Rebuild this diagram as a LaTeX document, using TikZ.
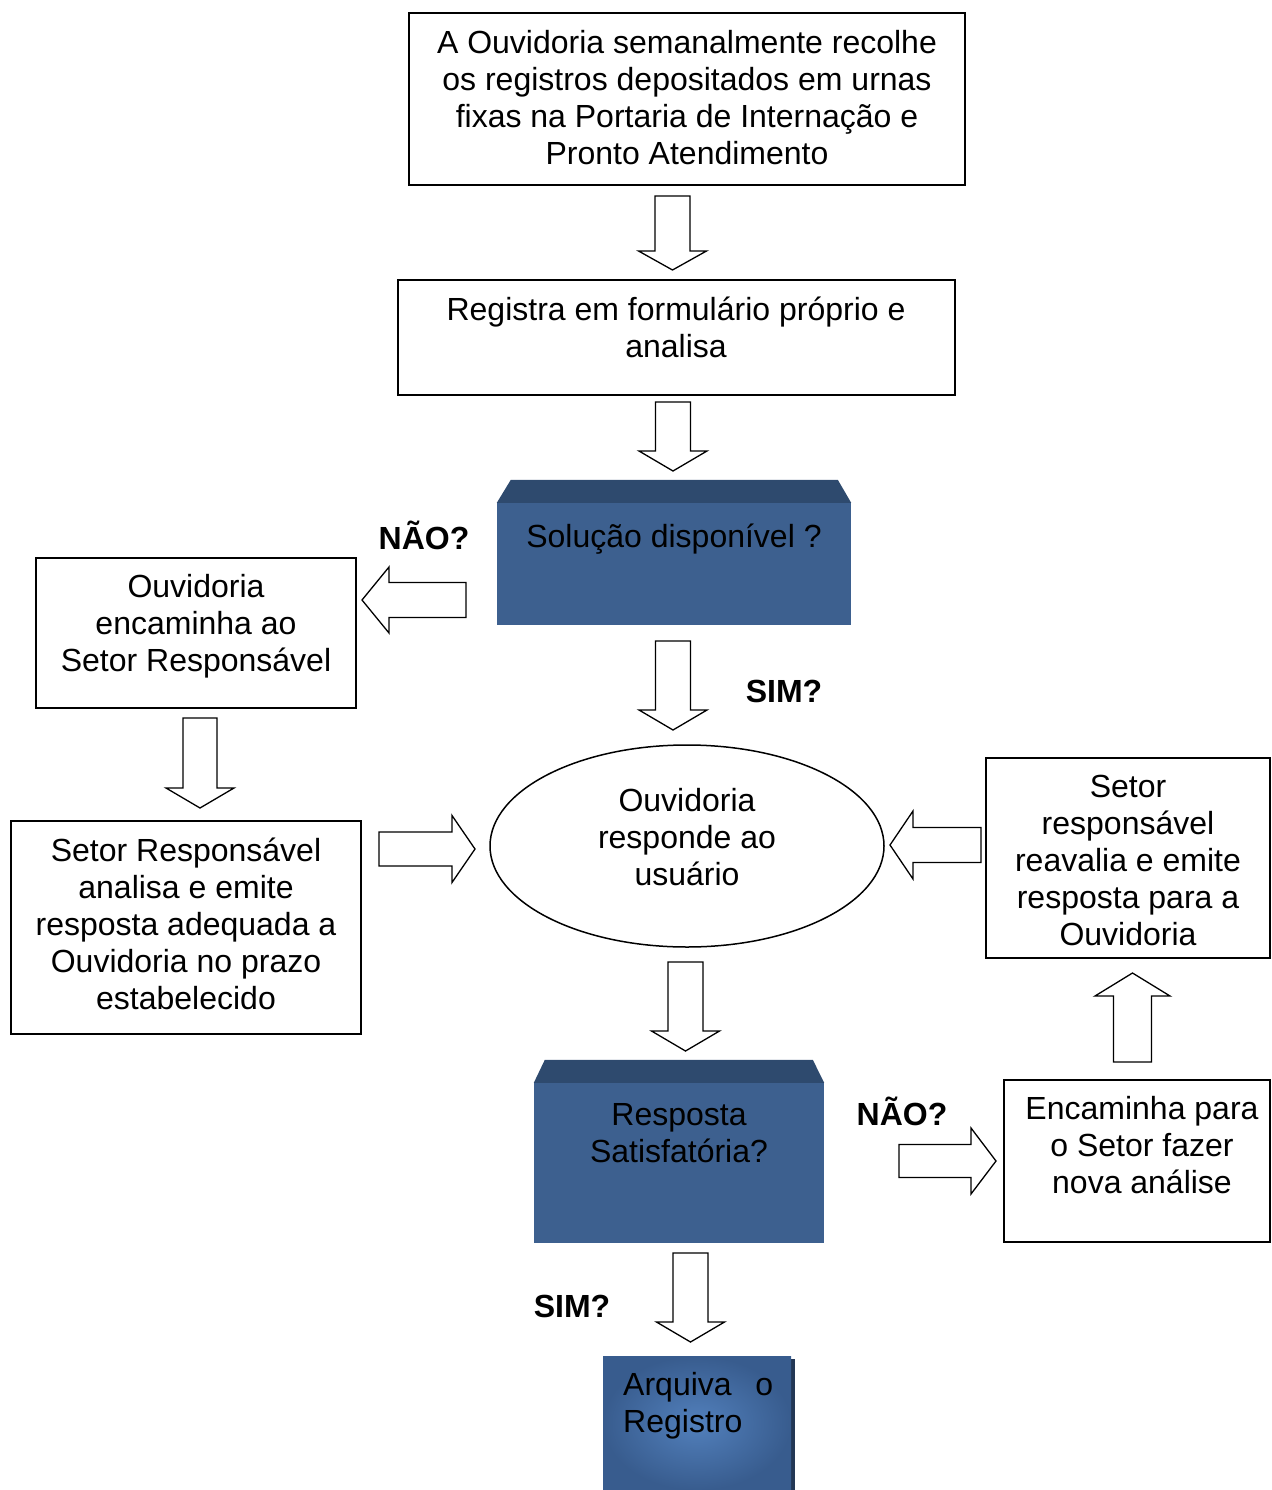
\documentclass[tikz,border=0pt]{standalone}
\usepackage{fontspec}
\setmainfont{Liberation Sans}
\usetikzlibrary{shapes.geometric}
\definecolor{blueF}{RGB}{61,96,143}
\definecolor{blueT}{RGB}{46,74,110}
\definecolor{blueIn}{RGB}{82,128,188}
\definecolor{blueOut}{RGB}{56,92,142}
\definecolor{blueShadow}{RGB}{35,55,85}
\newcommand{\vblock}[6]{% cx, tail, headbase, tip, bodyhalf, headhalf
  \draw[blockarrow] ({#1-#5},#2) -- ({#1+#5},#2) -- ({#1+#5},#3) -- ({#1+#6},#3) -- (#1,#4) -- ({#1-#6},#3) -- ({#1-#5},#3) -- cycle;}
\newcommand{\hblock}[6]{% cy, tail, headbase, tip, bodyhalf, headhalf
  \draw[blockarrow] (#2,{#1-#5}) -- (#2,{#1+#5}) -- (#3,{#1+#5}) -- (#3,{#1+#6}) -- (#4,#1) -- (#3,{#1-#6}) -- (#3,{#1-#5}) -- cycle;}
\begin{document}
\begin{tikzpicture}[x=1pt,y=-1pt,
  box/.style={draw=black,line width=1.5pt,fill=white,inner sep=0pt,rectangle},
  txt/.style={align=center,inner sep=0pt,font=\fontsize{32}{37}\selectfont},
  lbl/.style={inner sep=0pt,anchor=base,font=\fontsize{32}{37}\selectfont\bfseries},
  bluebox/.style={fill=blueF,inner sep=0pt,rectangle},
  blockarrow/.style={draw=black,line width=1.3pt,fill=white,line join=miter},
]
\useasboundingbox (0,0) rectangle (1271,1490);

% plain boxes
\node[box,minimum width=556,minimum height=172] (b1) at (687,99) {};
\node[box,minimum width=557,minimum height=115] (b2) at (676.5,337.5) {};
\node[box,minimum width=320,minimum height=150] (b3) at (196,633) {};
\node[box,minimum width=350,minimum height=213] (b4) at (186,927.5) {};
\node[box,minimum width=284,minimum height=200] (b5) at (1128,858) {};
\node[box,minimum width=266,minimum height=162] (b6) at (1137,1161) {};
\node[draw=black,line width=1.5pt,ellipse,minimum width=394,minimum height=202,inner sep=0pt] (el) at (687,846) {};

% blue decision boxes
\node[bluebox,minimum width=354,minimum height=122] (q1) at (674,564) {};
\fill[blueT] (q1.north west) -- ++(14,-23) -- ++(327,0) -- (q1.north east) -- cycle;
\node[bluebox,minimum width=290,minimum height=160] (q2) at (679,1163) {};
\fill[blueT] (q2.north west) -- ++(11,-23) -- ++(268,0) -- (q2.north east) -- cycle;

% final box with shadow
\fill[blueShadow] (789,1359) rectangle (795,1490);
\node[inner sep=0pt,rectangle,minimum width=188,minimum height=134,shading=radial,inner color=blueIn,outer color=blueOut] (q3) at (697,1423) {};

% texts
\node[txt] (t1) at (687,97.5) {A Ouvidoria semanalmente recolhe\\os registros depositados em urnas\\fixas na Portaria de Internação e\\Pronto Atendimento};
\node[txt] (t2) at (676,327.5) {Registra em formulário próprio e\\analisa};
\node[txt,anchor=base] (t3) at (674,547) {Solução disponível ?};
\node[lbl] (n1) at (424,549) {NÃO?};
\node[txt] (t4) at (196,626.5) {Ouvidoria\\encaminha ao\\Setor Responsável};
\node[lbl] (s1) at (784,702) {SIM?};
\node[txt] (t5) at (687,837.5) {Ouvidoria\\responde ao\\usuário};
\node[txt] (t6) at (186,923.5) {Setor Responsável\\analisa e emite\\resposta adequada a\\Ouvidoria no prazo\\estabelecido};
\node[txt] (t7) at (1128,860.5) {Setor\\responsável\\reavalia e emite\\resposta para a\\Ouvidoria};
\node[txt] (t8) at (679,1133.5) {Resposta\\Satisfatória?};
\node[lbl] (n2) at (902,1125) {NÃO?};
\node[txt] (t9) at (1142,1145.5) {Encaminha para\\o Setor fazer\\nova análise};
\node[lbl] (s2) at (572,1317) {SIM?};
\node[txt,align=left,text width=150,anchor=north west] (t10) at (623,1372.5) {Arquiva\hfill o\\Registro};

% block arrows
\vblock{672.5}{196}{251}{270}{17.5}{34}
\vblock{673}{402}{451}{471}{17.5}{34}
\hblock{600}{466}{389}{362}{17.5}{33}
\vblock{673}{641}{710}{730}{17.5}{34}
\vblock{200}{718}{788}{808}{17}{34}
\hblock{849}{379}{452}{475}{17}{33.5}
\hblock{845}{981}{913}{890}{17.5}{34}
\vblock{685.5}{962}{1031}{1051}{17.5}{34}
\hblock{1161}{899}{971}{996}{16.5}{33}
\vblock{1132.5}{1062}{996}{973}{19}{37.5}
\vblock{690.5}{1253}{1322}{1342}{17.5}{34}
\end{tikzpicture}
\end{document}
